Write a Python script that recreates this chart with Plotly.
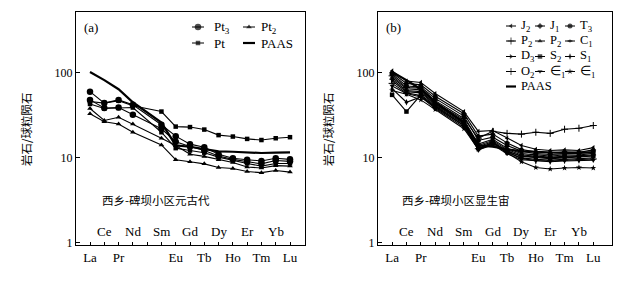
import plotly.graph_objects as go

W, H = 618, 281

# ---------------- data ----------------
elements = ["La", "Ce", "Pr", "Nd", "Pm", "Sm", "Eu", "Gd", "Tb", "Dy", "Ho", "Er", "Tm", "Yb", "Lu"]
lower_labels = ["La", "", "Pr", "", "", "", "Eu", "", "Tb", "", "Ho", "", "Tm", "", "Lu"]
upper_labels = ["", "Ce", "", "Nd", "", "Sm", "", "Gd", "", "Dy", "", "Er", "", "Yb", ""]
y_ticks = [1, 10, 100]

paas = [102, 82, 64, 45, None, 26, 14, 13.5, 12.8, 11.9, 11.8, 11.6, 11.4, 11.5, 11.6]

# panel (a) Proterozoic samples
a_pt_1 = [46, 44, 47, 41, None, 35, 23.3, 23, 21.5, 18.5, 17.8, 16.7, 16.2, 17, 17.5]
a_pt3_1 = [60, 44, 48, 42, None, 24.5, 18, 14.5, 13.3, 11, 9.9, 9.5, 9.2, 9.9, 9.6]
a_pt3_2 = [48, 38.5, 39, 32, None, 22, 15.5, 13.6, 12.2, 10.5, 9.6, 9.0, 8.5, 9.3, 9.1]
a_pt_2 = [43, 38, 38.5, 39, None, 20, 13, 12.2, 11.5, 10.2, 9.3, 8.6, 8.0, 8.6, 8.6]
a_pt2_1 = [38, 27.5, 30, 25, None, 17, 14, 11, 10.4, 9.5, 8.8, 7.8, 7.6, 8.1, 8.0]
a_pt2_2 = [33, 26.5, 25, 20, None, 14.2, 9.5, 9.0, 8.5, 7.7, 7.5, 6.9, 6.7, 7.1, 6.8]

# panel (b) Phanerozoic samples
b_j2 = [105, 80, 77, 57, None, 35, 20.5, 21, 17, 14, 12.6, 12.2, 12.4, 12.2, 13.2]
b_j1 = [100, 75, 72, 53, None, 33, 18, 19, 15, 12.5, 11.8, 11.5, 11.8, 11.6, 12.4]
b_t3 = [96, 70, 68, 50, None, 31, 16, 17.5, 14, 12, 11.2, 11, 11.2, 11.3, 11.8]
b_p2a = [92, 67, 66, 47, None, 29, 17, 20.5, 19.4, 19, 20, 19.4, 21.7, 22.3, 24]
b_p2b = [88, 65, 63, 45, None, 28, 14.5, 16.5, 13, 11.2, 10.8, 10.5, 10.8, 10.8, 11.3]
b_c1 = [84, 62, 60, 43, None, 27, 14, 16, 12.5, 10.8, 10.4, 10.2, 10.4, 10.5, 10.8]
b_d3 = [80, 60, 58, 42, None, 26, 13.5, 15.5, 12, 10.4, 10, 9.8, 10, 10.2, 10.5]
b_s2 = [55, 35, 55, 41, None, 25, 13, 15, 12, 10.5, 10.2, 10, 10.2, 10.3, 10.6]
b_s1 = [65, 45, 52, 40, None, 24, 12.5, 14.5, 11.5, 10, 9.6, 9.4, 9.6, 9.8, 10]
b_o2 = [75, 58, 54, 39, None, 24, 12.8, 15, 11.8, 9.8, 9.3, 9.2, 9.4, 9.5, 9.7]
b_e1a = [70, 57, 52, 38, None, 23, 12.4, 14.2, 11.2, 9.5, 9.2, 9.0, 9.2, 9.3, 9.4]
b_e1b = [62, 56, 48, 37, None, 22, 12.6, 15.2, 11.5, 9.0, 7.7, 7.4, 7.6, 7.7, 7.6]

a_series = [
    ("Pt<sub>3</sub>", a_pt3_1, "circle", 6.5),
    ("Pt<sub>3</sub>", a_pt3_2, "circle", 6.5),
    ("Pt", a_pt_1, "square", 4.5),
    ("Pt", a_pt_2, "square", 4.5),
    ("Pt<sub>2</sub>", a_pt2_1, "triangle-up", 5),
    ("Pt<sub>2</sub>", a_pt2_2, "triangle-up", 5),
]
b_series = [
    ("J<sub>2</sub>", b_j2, "triangle-left", 4.5),
    ("J<sub>1</sub>", b_j1, "diamond", 4.5),
    ("T<sub>3</sub>", b_t3, "circle", 5),
    ("P<sub>2</sub>", b_p2a, "cross-thin-open", 5),
    ("P<sub>2</sub>", b_p2b, "triangle-up", 4.5),
    ("C<sub>1</sub>", b_c1, "diamond-wide", 4.5),
    ("D<sub>3</sub>", b_d3, "triangle-right", 4.5),
    ("S<sub>2</sub>", b_s2, "square", 4.5),
    ("S<sub>1</sub>", b_s1, "diamond-tall", 4.5),
    ("O<sub>2</sub>", b_o2, "cross-thin-open", 5),
    ("∈<sub>1</sub>", b_e1a, "triangle-down", 4.5),
    ("∈<sub>1</sub>", b_e1b, "star", 4.5),
]

# ---------------- layout geometry (pixels) ----------------
SERIF = "Liberation Serif"
CJK = "Noto Sans CJK SC"
frame_top, frame_bot = 12, 245
panels = {
    "a": dict(left=76, right=305, xr=[-0.98, 15.05]),
    "b": dict(left=378, right=612, xr=[-0.98, 15.3]),
}
yr = [-0.024, 2.714]


def px(x):
    return x / W


def py(y):
    return 1 - y / H


fig = go.Figure()

for name, vals, sym, sz in a_series:
    fig.add_trace(go.Scatter(
        x=elements, y=vals, mode="lines+markers", connectgaps=True,
        line=dict(color="black", width=1.1), name=name, showlegend=False,
        marker=dict(symbol=sym, size=sz, color="black",
                    line=dict(color="black", width=1 if "open" in sym else 0)),
        xaxis="x", yaxis="y"))
fig.add_trace(go.Scatter(x=elements, y=paas, mode="lines", connectgaps=True,
                         line=dict(color="black", width=2.2), showlegend=False,
                         xaxis="x", yaxis="y"))

for name, vals, sym, sz in b_series:
    fig.add_trace(go.Scatter(
        x=elements, y=vals, mode="lines+markers", connectgaps=True,
        line=dict(color="black", width=1.1), name=name, showlegend=False,
        marker=dict(symbol=sym, size=sz, color="black",
                    line=dict(color="black", width=1 if "open" in sym else 0)),
        xaxis="x2", yaxis="y2"))
fig.add_trace(go.Scatter(x=elements, y=paas, mode="lines", connectgaps=True,
                         line=dict(color="black", width=2.2), showlegend=False,
                         xaxis="x2", yaxis="y2"))

annotations = []
layout_axes = {}
for i, key in enumerate(["a", "b"]):
    p = panels[key]
    xa = "xaxis" if i == 0 else "xaxis2"
    ya = "yaxis" if i == 0 else "yaxis2"
    xref = "x" if i == 0 else "x2"
    yref = "y" if i == 0 else "y2"
    layout_axes[xa] = dict(
        domain=[px(p["left"]), px(p["right"])], anchor=yref, type="category",
        categoryorder="array", categoryarray=elements, range=p["xr"],
        tickmode="array", tickvals=elements, ticktext=lower_labels,
        ticks="inside", ticklen=3, tickcolor="black", tickwidth=1,
        showline=True, linecolor="black", linewidth=1.2, mirror=True,
        showgrid=False, zeroline=False, automargin=False,
        tickfont=dict(family=SERIF, size=13, color="black"))
    layout_axes[ya] = dict(
        domain=[py(frame_bot), py(frame_top)], anchor=xref, type="log", range=yr,
        tickmode="array", tickvals=y_ticks, ticktext=[str(v) for v in y_ticks],
        ticks="inside", ticklen=4, tickcolor="black", tickwidth=1,
        showline=True, linecolor="black", linewidth=1.2, mirror=True,
        showgrid=False, zeroline=False, automargin=False,
        tickfont=dict(family=SERIF, size=12, color="black"))
    # upper row of element labels (inside plot, above the axis)
    for el, lab in zip(elements, upper_labels):
        if lab:
            annotations.append(dict(x=el, xref=xref, y=py(231.5), yref="paper",
                                    xanchor="center", yanchor="middle",
                                    text=lab, showarrow=False,
                                    font=dict(family=SERIF, size=13, color="black")))
    # y-axis title
    annotations.append(dict(x=px(p["left"] - 50), y=py(129), xref="paper", yref="paper",
                            xanchor="center", yanchor="middle",
                            text="岩石/球粒陨石", textangle=-90, showarrow=False,
                            font=dict(family=CJK, size=11.5, color="black")))
    # panel tag
    annotations.append(dict(x=px(p["left"] + 6), y=py(27), xref="paper", yref="paper",
                            xanchor="left", yanchor="middle",
                            text="(%s)" % key, showarrow=False,
                            font=dict(family=SERIF, size=13, color="black")))

annotations.append(dict(x=px(100), y=py(200), xref="paper", yref="paper",
                        xanchor="left", yanchor="middle",
                        text="西乡-碑坝小区元古代", showarrow=False,
                        font=dict(family=CJK, size=11.5, color="black")))
annotations.append(dict(x=px(400), y=py(200), xref="paper", yref="paper",
                        xanchor="left", yanchor="middle",
                        text="西乡-碑坝小区显生宙", showarrow=False,
                        font=dict(family=CJK, size=11.5, color="black")))

# ---------------- manual legends ----------------
# (key centre x, text x, row y, label, symbol, size, is_paas)
legend_a = [
    (198, 212, 27, "Pt<sub>3</sub>", "circle", 6.5, False),
    (249, 259, 27, "Pt<sub>2</sub>", "triangle-up", 5, False),
    (198, 212, 43, "Pt", "square", 4.5, False),
    (249, 259, 43, "PAAS", None, 0, True),
]
col_key = [511, 540, 570]
col_txt = [519, 548, 578]
row_y = [26, 41, 56.5, 71.5, 86.5]
legend_b = []
for k, (name, vals, sym, sz) in enumerate(b_series):
    r, c = divmod(k, 3)
    legend_b.append((col_key[c], col_txt[c], row_y[r], name, sym, sz, False))
legend_b.append((col_key[0], col_txt[0], row_y[4], "PAAS", None, 0, True))

for idx, (kx, tx, ry, label, sym, sz, is_paas) in enumerate(legend_a + legend_b):
    half = 5 if idx >= len(legend_a) else 6
    if is_paas:
        fig.add_trace(go.Scatter(x=[kx - half, kx + half], y=[ry, ry], mode="lines",
                                 line=dict(color="black", width=2.2), showlegend=False,
                                 hoverinfo="skip", xaxis="x3", yaxis="y3"))
    else:
        fig.add_trace(go.Scatter(x=[kx - half, kx, kx + half], y=[ry, ry, ry],
                                 mode="lines+markers", showlegend=False, hoverinfo="skip",
                                 line=dict(color="black", width=1),
                                 marker=dict(symbol=sym, size=[0, sz, 0], color="black",
                                             line=dict(color="black",
                                                       width=1 if "open" in sym else 0)),
                                 xaxis="x3", yaxis="y3"))
    fsize = 13 if idx < len(legend_a) else 12.5
    annotations.append(dict(x=px(tx), y=py(ry), xref="paper", yref="paper",
                            xanchor="left", yanchor="middle", text=label,
                            showarrow=False,
                            font=dict(family=SERIF, size=fsize, color="black")))

layout_axes["xaxis3"] = dict(domain=[0, 1], range=[0, W], anchor="y3", visible=False,
                             showgrid=False, zeroline=False, fixedrange=True,
                             automargin=False)
layout_axes["yaxis3"] = dict(domain=[0, 1], range=[H, 0], anchor="x3", visible=False,
                             showgrid=False, zeroline=False, fixedrange=True,
                             automargin=False)

fig.update_layout(
    width=W, height=H, margin=dict(l=0, r=0, t=0, b=0, pad=0),
    paper_bgcolor="white", plot_bgcolor="rgba(0,0,0,0)", showlegend=False,
    hovermode=False, annotations=annotations, **layout_axes)

# remove the browser's default 8px page margin so the figure sits at the window origin
fig.write_html("out.html", config={"displayModeBar": False, "staticPlot": True},
               post_script="document.body.style.margin='0px';")
